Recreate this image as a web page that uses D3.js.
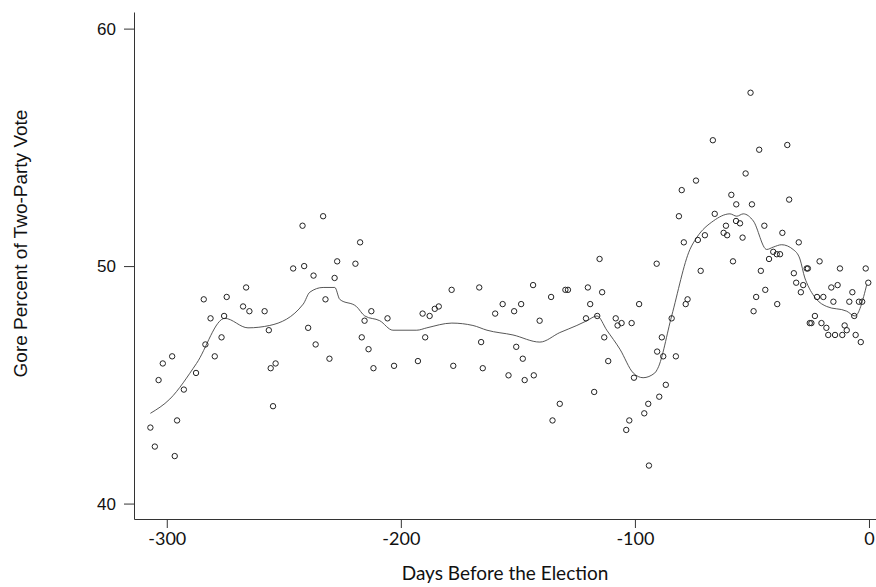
<!DOCTYPE html>
<html>
<head>
<meta charset="utf-8">
<script src="https://cdn.jsdelivr.net/npm/d3@7"></script>
<style>
    body { margin: 0; background: #fff; }
    svg { display: block; }
</style>
</head>
<body>
<svg id="svg-main"></svg>
<script>
// poll readings: days before the election, Gore share of two-party vote
const POLL_DAYS = [
    -307.0, -305.1, -303.5, -301.7, -297.7, -296.6, -295.6, -292.7, -287.5, -284.2,
    -283.5, -281.3, -279.5, -276.6, -275.5, -274.4, -267.4, -266.1, -264.7, -258.2,
    -256.4, -255.6, -253.5, -254.6, -246.0, -242.0, -241.3, -239.6, -237.3, -236.4,
    -233.2, -232.2, -230.5, -228.3, -227.2, -219.4, -217.4, -216.7, -215.5, -213.8,
    -212.6, -211.7, -205.7, -202.9, -192.7, -189.6, -190.7, -187.7, -185.5, -183.8,
    -178.3, -177.6, -166.5, -165.7, -165.0, -159.7, -156.5, -154.0, -151.6, -150.7,
    -148.6, -147.9, -147.1, -143.5, -143.2, -140.7, -135.8, -135.2, -132.1, -129.7,
    -128.6, -120.9, -120.1, -119.1, -117.4, -116.1, -115.1, -114.0, -113.1, -111.4,
    -108.2, -107.4, -105.7, -101.4, -100.4, -98.2, -103.7, -102.4, -96.0, -94.3,
    -89.6, -86.8, -90.5, -87.9, -82.5, -88.5, -84.3, -77.5, -78.3, -90.7,
    -94.0, -71.9, -79.1, -81.2, -80.0, -73.9, -73.1, -70.1, -66.7, -65.9,
    -62.1, -61.1, -60.6, -58.8, -58.1, -56.7, -56.8, -55.1, -54.0, -52.7,
    -50.6, -50.0, -46.9, -48.2, -49.3, -46.2, -44.3, -44.7, -42.7, -40.9,
    -39.4, -38.0, -39.2, -37.0, -34.9, -34.1, -32.1, -31.1, -30.0, -29.1,
    -28.1, -26.6, -26.1, -25.3, -24.6, -23.1, -22.2, -21.1, -20.3, -19.5,
    -18.2, -17.4, -16.1, -15.2, -14.5, -13.4, -12.4, -11.4, -10.4, -9.5,
    -8.4, -7.1, -6.3, -5.7, -4.3, -3.5, -2.9, -1.4, -0.3
];
const POLL_VOTE = [
    43.2, 42.4, 45.2, 45.9, 46.2, 42.0, 43.5, 44.8, 45.5, 48.6,
    46.7, 47.8, 46.2, 47.0, 47.9, 48.7, 48.3, 49.1, 48.1, 48.1,
    47.3, 45.7, 45.9, 44.1, 49.9, 51.7, 50.0, 47.4, 49.6, 46.7,
    52.1, 48.6, 46.1, 49.5, 50.2, 50.1, 51.0, 47.0, 47.7, 46.5,
    48.1, 45.7, 47.8, 45.8, 46.0, 47.0, 48.0, 47.9, 48.2, 48.3,
    49.0, 45.8, 49.1, 46.8, 45.7, 48.0, 48.4, 45.4, 48.1, 46.6,
    48.4, 46.1, 45.2, 49.2, 45.4, 47.7, 48.7, 43.5, 44.2, 49.0,
    49.0, 47.8, 49.1, 48.4, 44.7, 47.9, 50.3, 48.9, 47.0, 46.0,
    47.8, 47.5, 47.6, 47.6, 45.3, 48.4, 43.1, 43.5, 43.8, 44.2,
    44.5, 45.0, 46.4, 46.2, 46.2, 47.0, 47.8, 48.6, 48.4, 50.1,
    41.6, 49.8, 51.0, 52.1, 53.2, 53.6, 51.1, 51.3, 55.3, 52.2,
    51.4, 51.7, 51.3, 53.0, 50.2, 52.6, 51.9, 51.8, 51.2, 53.9,
    57.3, 52.6, 54.9, 48.7, 48.1, 49.8, 49.0, 51.7, 50.3, 50.6,
    50.5, 50.5, 48.4, 51.4, 55.1, 52.8, 49.7, 49.3, 51.0, 48.9,
    49.2, 49.9, 49.9, 47.6, 47.6, 47.9, 48.7, 50.2, 47.6, 48.7,
    47.4, 47.1, 49.1, 48.5, 47.1, 49.2, 49.9, 47.1, 47.5, 47.3,
    48.5, 48.9, 47.9, 47.1, 48.5, 46.8, 48.5, 49.9, 49.3
];

// smoothed trend line
const TREND_DAYS = [
    -307.0, -298.7, -287.3, -275.2, -265.3, -256.0, -241.7, -238.9, -233.2, -228.2,
    -226.1, -219.0, -215.4, -209.0, -203.4, -193.2, -188.9, -178.2, -169.2, -163.2,
    -152.1, -140.6, -132.1, -124.8, -120.5, -116.2, -112.0, -106.4, -100.7, -96.5,
    -91.5, -90.2, -84.3, -76.5, -73.6, -66.5, -59.4, -56.5, -53.7, -49.4,
    -43.7, -40.9, -37.3, -32.4, -29.5, -27.4, -26.6, -22.4, -18.1, -9.5,
    -6.0, -1.0
];
const TREND_VOTE = [
    43.8, 44.4, 45.9, 47.8, 47.4, 47.5, 48.4, 48.9, 49.1, 49.1,
    48.6, 48.3, 47.9, 47.7, 47.3, 47.3, 47.4, 47.6, 47.5, 47.3,
    47.1, 46.8, 47.2, 47.5, 47.7, 47.9, 47.3, 46.5, 45.5, 45.3,
    45.5, 45.7, 47.9, 50.7, 51.2, 51.9, 52.2, 52.1, 52.2, 51.9,
    50.7, 50.8, 50.9, 50.7, 50.3, 49.5, 49.3, 48.6, 48.3, 48.1,
    47.9, 49.2
];

const X_TICKS = [-300, -200, -100, 0];
const Y_TICKS = [40, 50, 60];
const X_TITLE = "Days Before the Election";
const Y_TITLE = "Gore Percent of Two-Party Vote";

var Dims = {
    Svg: { Width: 876, Height: 587 },
    Plot: { Left: 134, Right: 876, Top: 12, Bottom: 519 }
};

var svg = d3.select("svg#svg-main")
    .attr("width", Dims.Svg.Width)
    .attr("height", Dims.Svg.Height);

var x = d3.scaleLinear().domain([-314, 3]).range([Dims.Plot.Left, Dims.Plot.Right]);
var y = d3.scaleLinear().domain([39.35, 60.7]).range([Dims.Plot.Bottom, Dims.Plot.Top]);

drawAxes();
drawTrend();
drawPolls();

function drawAxes() {
    var xAxis = d3.axisBottom(x)
        .tickValues(X_TICKS)
        .tickSize(9)
        .tickSizeOuter(0)
        .tickPadding(4)
        .tickFormat(d3.format("d"));

    var gx = svg.append("g")
        .attr("transform", `translate(0,${Dims.Plot.Bottom})`)
        .call(xAxis);
    gx.selectAll("text")
        .attr("font-family", "Lato, 'Open Sans', sans-serif")
        .attr("font-size", 18)
        .attr("fill", "#111")
        .text(d => d < 0 ? "-" + Math.abs(d) : d);

    var yAxis = d3.axisLeft(y)
        .tickValues(Y_TICKS)
        .tickSize(10)
        .tickSizeOuter(0)
        .tickPadding(8);

    var gy = svg.append("g")
        .attr("transform", `translate(${Dims.Plot.Left},0)`)
        .call(yAxis);
    gy.selectAll("text")
        .attr("font-family", "'Liberation Sans', Arial, sans-serif")
        .attr("font-size", 17)
        .attr("fill", "#111");

    svg.selectAll(".domain, .tick line")
        .attr("stroke", "#333")
        .attr("stroke-width", 1);

    svg.append("text")
        .attr("x", (Dims.Plot.Left + Dims.Plot.Right) / 2)
        .attr("y", 580)
        .attr("text-anchor", "middle")
        .attr("font-family", "Lato, 'Open Sans', sans-serif")
        .attr("font-size", 19)
        .attr("fill", "#111")
        .text(X_TITLE);

    svg.append("text")
        .attr("transform", `translate(27,${(Dims.Plot.Top + Dims.Plot.Bottom) / 2 - 22}) rotate(-90)`)
        .attr("text-anchor", "middle")
        .attr("font-family", "'Liberation Sans', Arial, sans-serif")
        .attr("font-size", 19)
        .attr("fill", "#111")
        .text(Y_TITLE);
}

function drawTrend() {
    var trend = TREND_DAYS.map((d, i) => [d, TREND_VOTE[i]]);
    var line = d3.line()
        .x(d => x(d[0]))
        .y(d => y(d[1]))
        .curve(d3.curveMonotoneX);

    svg.append("path")
        .datum(trend)
        .attr("d", line)
        .attr("fill", "none")
        .attr("stroke", "#444")
        .attr("stroke-width", 0.9);
}

function drawPolls() {
    var polls = POLL_DAYS.map((d, i) => ({ day: d, vote: POLL_VOTE[i] }));
    svg.append("g")
        .selectAll("circle")
        .data(polls)
        .enter()
        .append("circle")
        .attr("cx", d => x(d.day))
        .attr("cy", d => y(d.vote))
        .attr("r", 2.7)
        .attr("fill", "none")
        .attr("stroke", "#222")
        .attr("stroke-width", 1);
}
</script>
</body>
</html>
